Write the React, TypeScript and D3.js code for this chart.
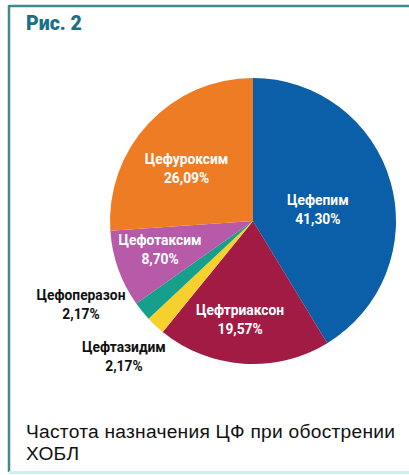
import React from "react";
import * as d3 from "d3";

const categories = ["Цефепим", "Цефтриаксон", "Цефтазидим", "Цефоперазон", "Цефотаксим", "Цефуроксим"];
const values = [41.3, 19.57, 2.17, 2.17, 8.7, 26.09];
const valueLabels = ["41,30%", "19,57%", "2,17%", "2,17%", "8,70%", "26,09%"];
const colors = ["#0b5ea8", "#a11b45", "#f6d02c", "#16a08c", "#b75aa8", "#ee7c24"];
// label layout: radius fraction, angle shift (deg), inside?
const labelR = [0.46, 0.7, 1.31, 1.34, 0.68, 0.59];
const labelShift = [6, 3.5, 0.5, 13, 2.5, -5];
const labelInside = [true, true, false, false, true, true];

const W = 409, H = 475;
const cx = 253, cy = 221, R = 143;

export default function App() {
  const pie = d3.pie<number>().sort(null).value((d) => d)(values);
  const arc = d3.arc<d3.PieArcDatum<number>>().innerRadius(0).outerRadius(R);
  return (
    <svg width={W} height={H} style={{ position: "absolute", left: 0, top: 0, background: "#fff" }}>
      <line x1={9} y1={6} x2={W} y2={6} stroke="#3d8c8e" strokeWidth={2.5} />
      <line x1={9} y1={5} x2={9} y2={472} stroke="#3d8c8e" strokeWidth={2.5} />
      <line x1={9} y1={472.5} x2={W} y2={472.5} stroke="#c6f3f7" strokeWidth={3} />
      <text x={26} y={30} fontFamily="Roboto, Arial, sans-serif" fontWeight={900} fontSize={19.5} fill="#1d6e86">Рис. 2</text>
      <g transform={`translate(${cx},${cy})`}>
        {pie.map((p, i) => (
          <path key={i} d={arc(p) || ""} fill={colors[i]} />
        ))}
        {pie.map((p, i) => {
          const a = (p.startAngle + p.endAngle) / 2 + (labelShift[i] * Math.PI) / 180;
          const r = R * labelR[i];
          const x = Math.sin(a) * r;
          const y = -Math.cos(a) * r;
          return (
            <text key={"t" + i} x={x} y={y} textAnchor="middle" fontFamily="Roboto, Arial, sans-serif"
              fontWeight={700} fontSize={13.8} fill={labelInside[i] ? "#fff" : "#111"}>
              <tspan x={x} dy={-5}>{categories[i]}</tspan>
              <tspan x={x} dy={19}>{valueLabels[i]}</tspan>
            </text>
          );
        })}
      </g>
      <text x={26} y={438} fontFamily="Arial, 'Liberation Sans', sans-serif" fontSize={19.2} letterSpacing={0.25} fill="#111">Частота назначения ЦФ при обострении</text>
      <text x={26} y={460} fontFamily="Arial, 'Liberation Sans', sans-serif" fontSize={19.2} letterSpacing={0.25} fill="#111">ХОБЛ</text>
    </svg>
  );
}
